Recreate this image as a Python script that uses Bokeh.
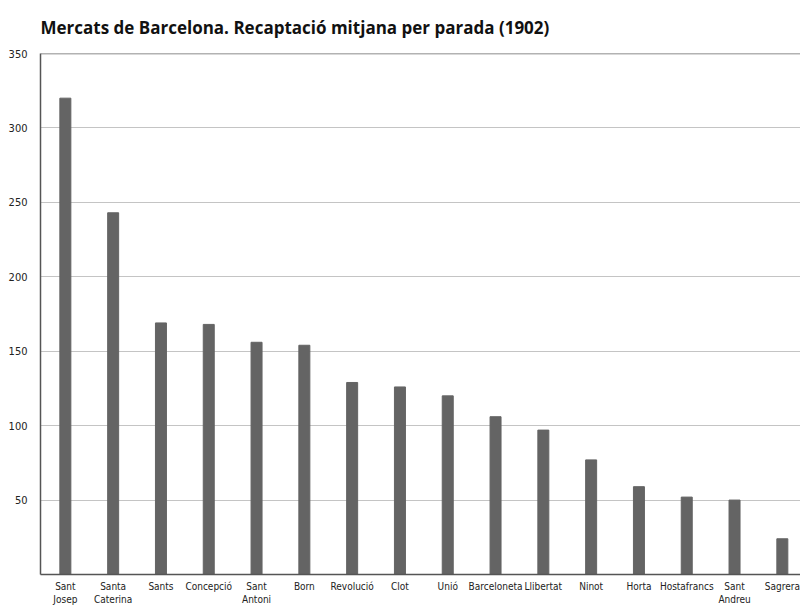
from bokeh.plotting import figure
from bokeh.models import FixedTicker, Span, ColumnDataSource
from bokeh.embed import file_html
from bokeh.resources import INLINE

markets = ["Sant\nJosep", "Santa\nCaterina", "Sants", "Concepció", "Sant\nAntoni", "Born",
           "Revolució", "Clot", "Unió", "Barceloneta", "Llibertat", "Ninot", "Horta",
           "Hostafrancs", "Sant\nAndreu", "Sagrera"]
values = [320, 243, 169, 168, 156, 154, 129, 126, 120, 106, 97, 77, 59, 52, 50, 24]
y_ticks = [50, 100, 150, 200, 250, 300, 350]

xs = list(range(len(markets)))
src = ColumnDataSource(dict(x=xs, top=values))

LABEL_FONT = "'DejaVu Sans Condensed', 'Open Sans', sans-serif"

p = figure(width=800, height=607, output_backend="svg", toolbar_location=None,
           x_range=(-0.52, 15.38), y_range=(0, 350),
           min_border_left=40, min_border_right=0, min_border_top=53, min_border_bottom=32)

p.vbar(x="x", top="top", width=0.23, bottom=0, source=src, color="#646464")

p.title.text = "Mercats de Barcelona. Recaptació mitjana per parada (1902)"
p.title.text_font = "Open Sans"
p.title.text_font_size = "17px"
p.title.text_font_style = "bold"
p.title.text_color = "#111111"
p.title.align = "left"
p.title.offset = 0
p.title.standoff = 26
p.title.vertical_align = "top"

p.outline_line_color = None
p.background_fill_color = "white"

p.xaxis.ticker = FixedTicker(ticks=xs)
p.xaxis.major_label_overrides = {i: m for i, m in enumerate(markets)}
p.xaxis.major_tick_line_color = None
p.xaxis.minor_tick_line_color = None
p.xaxis.axis_line_color = "#555555"
p.xaxis.axis_line_width = 1.5
p.xaxis.major_label_text_font = LABEL_FONT
p.xaxis.major_label_text_font_size = "10px"
p.xaxis.major_label_text_color = "#222222"
p.xaxis.major_label_standoff = 0

p.yaxis.ticker = FixedTicker(ticks=y_ticks)
p.yaxis.major_tick_line_color = None
p.yaxis.minor_tick_line_color = None
p.yaxis.axis_line_color = "#555555"
p.yaxis.axis_line_width = 1.5
p.yaxis.major_label_text_font = LABEL_FONT
p.yaxis.major_label_text_font_size = "11px"
p.yaxis.major_label_text_color = "#222222"
p.yaxis.major_label_standoff = 7

p.xgrid.grid_line_color = None
p.ygrid.ticker = FixedTicker(ticks=[50, 100, 150, 200, 250, 300])
p.ygrid.grid_line_color = "#c4c4c4"
p.ygrid.grid_line_width = 1

p.add_layout(Span(location=350, dimension="width", line_color="#666666", line_width=1.5))

open("out.html", "w").write(file_html(p, INLINE))
